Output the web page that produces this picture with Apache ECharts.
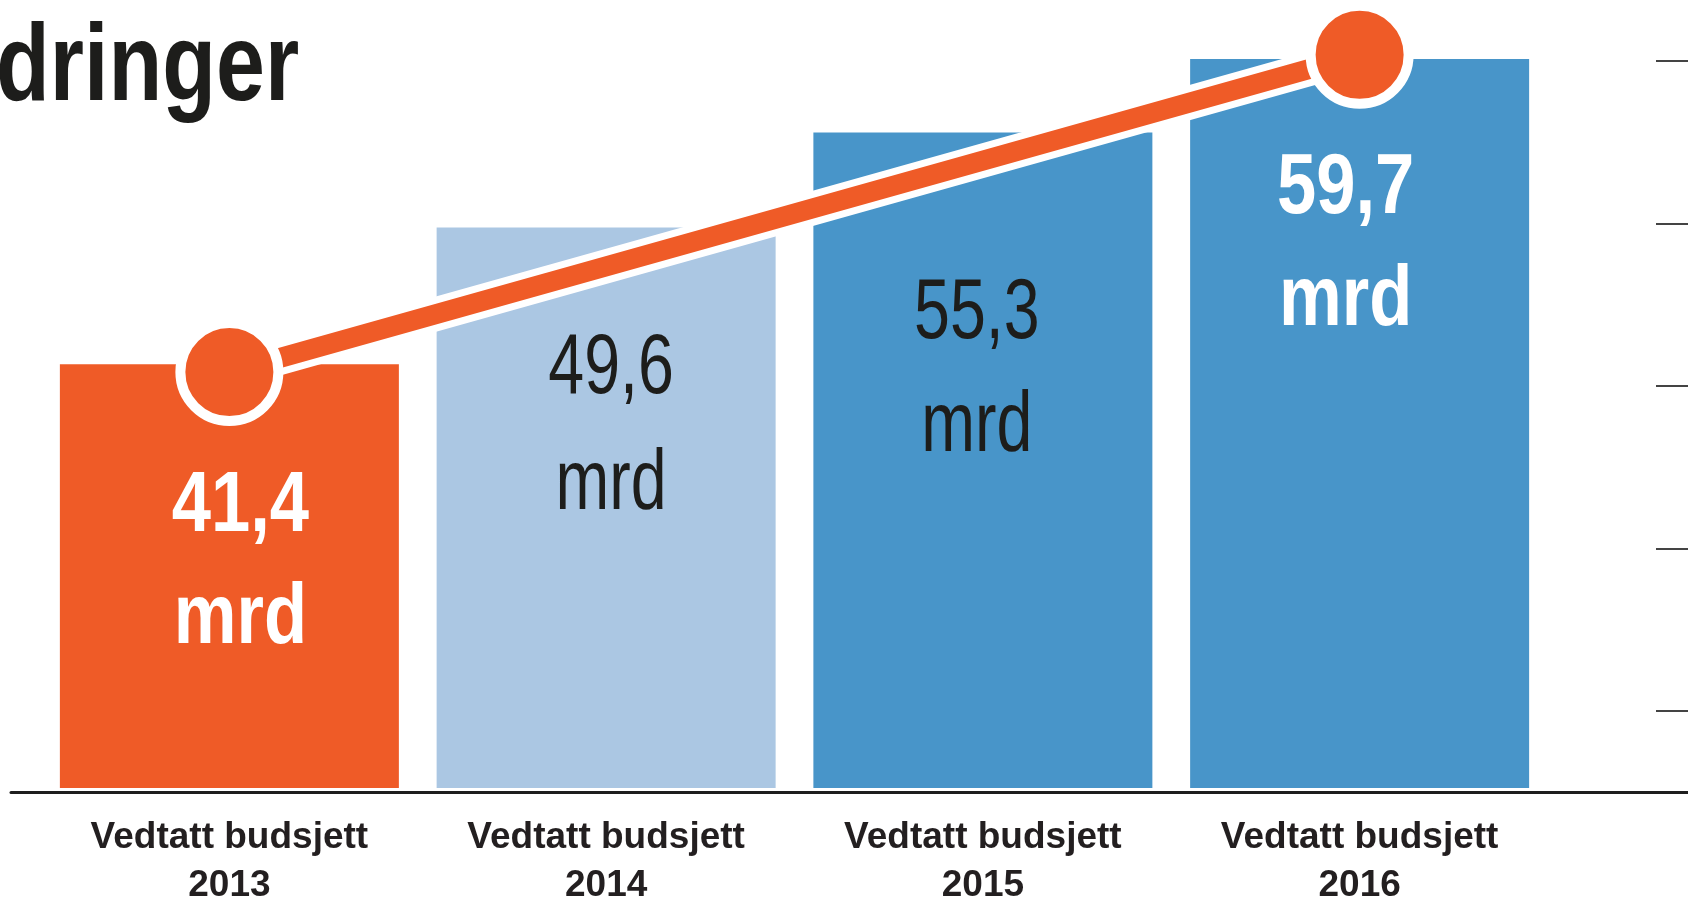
<!DOCTYPE html>
<html>
<head>
<meta charset="utf-8">
<title>Vedtatt budsjett</title>
<script src="https://cdn.jsdelivr.net/npm/echarts@6/dist/echarts.min.js"></script>
<style>
  html, body { margin: 0; padding: 0; background: #fff; }
  #main { width: 1688px; height: 901px; }
</style>
</head>
<body>
<div id="main"></div>
<script>
// data
var categories = ['Vedtatt budsjett\n2013', 'Vedtatt budsjett\n2014', 'Vedtatt budsjett\n2015', 'Vedtatt budsjett\n2016'];
var budgetValues = [41.4, 49.6, 55.3, 59.7];
var lineValues = [41.4, null, null, 59.7];
var tickValues = [20, 30, 40, 50, 60];
var unitText = 'mrd';
var titleText = 'dringer';

// styles
var FONT = "'Liberation Sans', Arial, sans-serif";
var ORANGE = '#ef5b27';
var barColors = [ORANGE, '#abc7e3', '#4895c9', '#4895c9'];
var labelColors = ['#ffffff', '#1d1d1b', '#1d1d1b', '#ffffff'];
var labelWeights = ['bold', 'normal', 'normal', 'bold'];
var labelSqueeze = [0.82, 0.75, 0.75, 0.82];
// [dx, dy] from the top centre of each bar to the middle of its number
var labelNudge = [[11, 143], [5, 142], [-6, 182], [-14, 130]];
var unitGap = [112, 116, 113, 112];

var barData = budgetValues.map(function (v, i) {
    return { value: v, itemStyle: { color: barColors[i] } };
});

var myChart = echarts.init(document.getElementById('main'));
myChart.setOption({
    animation: false,
    graphic: [{
        type: 'text',
        x: -4,
        y: 70,
        scaleX: 0.8,
        style: {
            text: titleText,
            fill: '#1d1d1b',
            font: 'bold 110px ' + FONT,
            align: 'left',
            verticalAlign: 'middle'
        }
    }],
    grid: [
        { left: 41, right: 140, top: 54, bottom: 113, containLabel: false, outerBoundsMode: 'none' },
        { left: 11, right: 0, top: 61, bottom: 109, containLabel: false, outerBoundsMode: 'none' }
    ],
    xAxis: [
        {
            type: 'category',
            gridIndex: 0,
            data: categories,
            axisLine: { show: false },
            axisTick: { show: false },
            axisLabel: {
                margin: 26,
                fontFamily: FONT,
                fontSize: 37,
                lineHeight: 48,
                fontWeight: 'bold',
                color: '#231f20'
            }
        },
        {
            type: 'value',
            gridIndex: 1,
            min: 0,
            max: 1,
            axisLine: { show: true, onZero: false, lineStyle: { color: '#1e1e1e', width: 3 } },
            axisTick: { show: false },
            axisLabel: { show: false },
            splitLine: { show: false }
        }
    ],
    yAxis: [
        {
            type: 'value',
            gridIndex: 0,
            min: 16,
            max: 60,
            show: false
        },
        {
            type: 'value',
            gridIndex: 1,
            position: 'right',
            min: 15,
            max: 60,
            axisLine: { show: false, onZero: false },
            axisTick: {
                show: true,
                inside: true,
                length: 32,
                customValues: tickValues,
                lineStyle: { color: '#444', width: 2 }
            },
            axisLabel: { show: false },
            splitLine: { show: false }
        },
        {
            // scale for the trend line
            type: 'value',
            gridIndex: 0,
            min: 17.4,
            max: 59.75,
            show: false
        }
    ],
    series: [
        {
            type: 'bar',
            xAxisIndex: 0,
            yAxisIndex: 0,
            barWidth: 339,
            data: barData,
            z: 2
        },
        {
            // white outline under the orange line
            type: 'line',
            xAxisIndex: 0,
            yAxisIndex: 2,
            data: lineValues,
            connectNulls: true,
            showSymbol: false,
            clip: false,
            silent: true,
            lineStyle: { color: '#ffffff', width: 34 },
            z: 3
        },
        {
            type: 'line',
            xAxisIndex: 0,
            yAxisIndex: 2,
            data: lineValues,
            connectNulls: true,
            clip: false,
            symbol: 'circle',
            symbolSize: 98,
            lineStyle: { color: ORANGE, width: 20 },
            itemStyle: { color: ORANGE, borderColor: '#ffffff', borderWidth: 10 },
            z: 4
        },
        {
            // value labels inside the bars
            type: 'custom',
            xAxisIndex: 0,
            yAxisIndex: 0,
            clip: false,
            silent: true,
            z: 5,
            data: budgetValues.map(function (v, i) { return [i, v]; }),
            encode: { x: 0, y: 1 },
            renderItem: function (params, api) {
                var i = params.dataIndex;
                var pt = api.coord([api.value(0), api.value(1)]);
                var x = pt[0] + labelNudge[i][0];
                var y = pt[1] + labelNudge[i][1];
                var font = labelWeights[i] + ' 86px ' + FONT;
                var num = api.value(1).toFixed(1).replace('.', ',');
                return {
                    type: 'group',
                    children: [
                        {
                            type: 'text', x: x, y: y, scaleX: labelSqueeze[i],
                            style: { text: num, fill: labelColors[i], font: font, align: 'center', verticalAlign: 'middle' }
                        },
                        {
                            type: 'text', x: x, y: y + unitGap[i], scaleX: labelSqueeze[i],
                            style: { text: unitText, fill: labelColors[i], font: font, align: 'center', verticalAlign: 'middle' }
                        }
                    ]
                };
            }
        }
    ]
});
</script>
</body>
</html>
